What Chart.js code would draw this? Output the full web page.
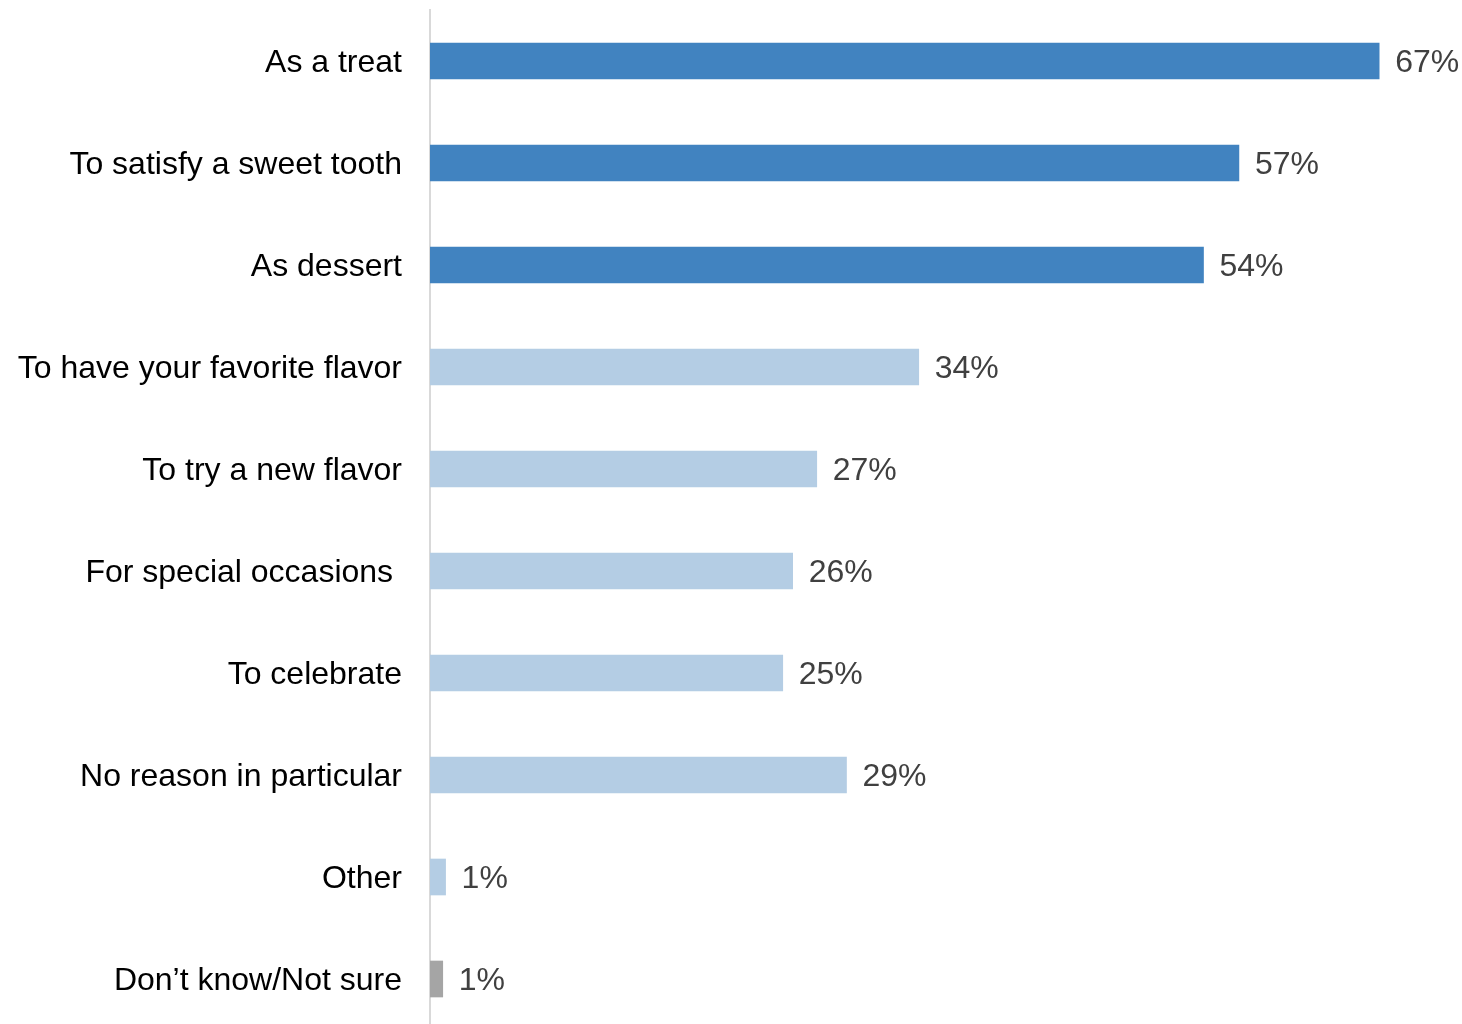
<!DOCTYPE html>
<html>
<head>
<meta charset="utf-8">
<script src="https://cdn.jsdelivr.net/npm/chart.js@4/dist/chart.umd.min.js"></script>
<style>
  html, body { margin: 0; padding: 0; background: #fff; overflow: hidden; }
  #wrap { width: 1462px; height: 1040px; }
</style>
</head>
<body>
<div id="wrap"><canvas id="chart"></canvas></div>
<script>
const categories = [
  "As a treat",
  "To satisfy a sweet tooth",
  "As dessert",
  "To have your favorite flavor",
  "To try a new flavor",
  "For special occasions ",
  "To celebrate",
  "No reason in particular",
  "Other",
  "Don’t know/Not sure",
];
// (labels show the rounded figure)
const values = [67.0, 57.1, 54.6, 34.5, 27.3, 25.6, 24.9, 29.4, 1.1, 0.9];
const valueLabels = ["67%", "57%", "54%", "34%", "27%", "26%", "25%", "29%", "1%", "1%"];

const darkBlue = "#4183C0";
const lightBlue = "#B4CDE4";
const grey = "#A5A5A5";
const barColors = [darkBlue, darkBlue, darkBlue, lightBlue, lightBlue, lightBlue, lightBlue, lightBlue, lightBlue, grey];

const fontFamily = "'Liberation Sans', Arial, sans-serif";

// simple value labels at the end of each bar
const valueLabelPlugin = {
  id: "valueLabels",
  afterDatasetsDraw(chart) {
    const ctx = chart.ctx;
    const meta = chart.getDatasetMeta(0);
    ctx.save();
    ctx.font = "32px " + fontFamily;
    ctx.fillStyle = "#404040";
    ctx.textAlign = "left";
    ctx.textBaseline = "middle";
    meta.data.forEach((bar, i) => {
      ctx.fillText(valueLabels[i], bar.x + 16, bar.y + 2);
    });
    ctx.restore();
  },
};

new Chart(document.getElementById("chart"), {
  type: "bar",
  data: {
    labels: categories,
    datasets: [
      {
        data: values,
        backgroundColor: barColors,
        barThickness: 36,
        borderWidth: 0,
      },
    ],
  },
  options: {
    indexAxis: "y",
    responsive: true,
    maintainAspectRatio: false,
    animation: false,
    layout: { padding: { top: 10, bottom: 10, left: 0, right: 12 } },
    plugins: {
      legend: { display: false },
      tooltip: { enabled: false },
    },
    scales: {
      x: {
        display: false,
        min: 0,
        max: 72,
      },
      y: {
        grid: { display: false, drawTicks: false },
        border: { display: true, color: "#D9D9D9", width: 2 },
        ticks: {
          color: "#000",
          padding: 28,
          labelOffset: 2,
          font: { family: fontFamily, size: 32 },
        },
        afterFit(scale) {
          scale.width = 430;
          scale.paddingTop = 0;
          scale.paddingBottom = 0;
        },
      },
    },
  },
  plugins: [valueLabelPlugin],
});
</script>
</body>
</html>
